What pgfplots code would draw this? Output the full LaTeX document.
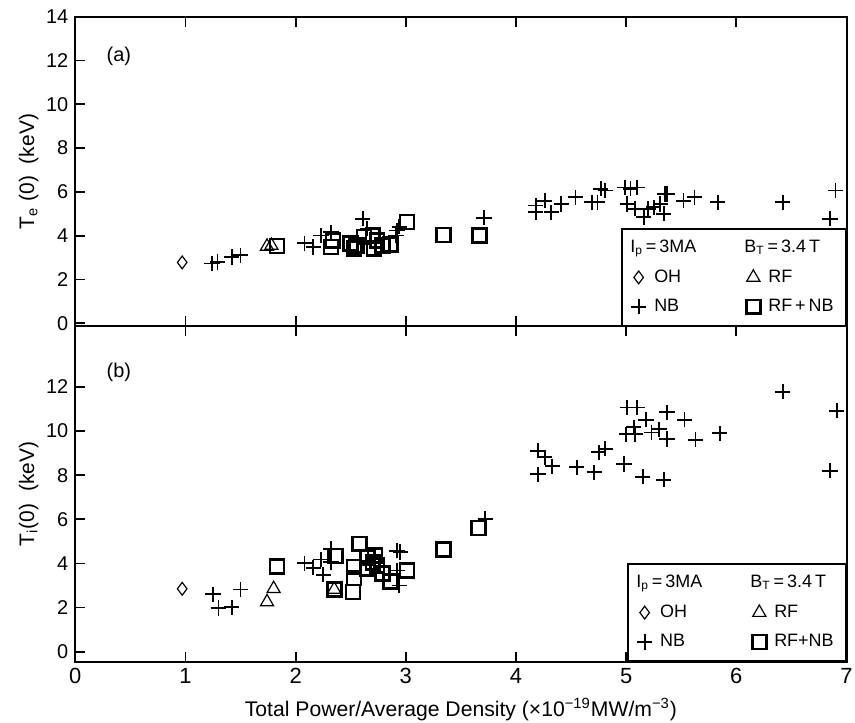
\documentclass[border=0pt]{standalone}
\usepackage{fontspec}
\setmainfont{Liberation Sans}
\usepackage{pgfplots}
\pgfplotsset{compat=1.18}

\pgfplotstableread{
x    y
0.97 2.78
}\teOH
\pgfplotstableread{
x    y
1.74 3.51
1.78 3.55
}\teRF
\pgfplotstableread{
x    y
1.24 2.73
1.29 2.80
1.42 3.03
1.50 3.10
2.08 3.66
2.16 3.48
2.23 4.01
2.32 4.16
2.61 4.77
2.65 4.32
2.91 4.01
2.92 4.24
2.94 4.40
3.71 4.82
4.18 5.07
4.18 5.38
4.26 5.60
4.32 5.07
4.41 5.45
4.54 5.75
4.69 5.53
4.74 5.53
4.77 6.14
4.81 6.06
4.99 6.20
5.04 6.14
5.10 6.20
5.01 5.45
5.08 5.23
5.16 4.85
5.20 5.23
5.25 5.30
5.31 5.45
5.35 5.90
5.37 5.90
5.34 5.00
5.52 5.60
5.62 5.75
5.83 5.53
6.42 5.53
6.90 6.06
6.85 4.77
}\teNB
\pgfplotstableread{
x    y
1.83 3.53
2.34 3.79
2.32 3.48
2.50 3.64
2.53 3.41
2.55 3.55
2.62 3.94
2.70 4.01
2.71 3.41
2.74 3.79
2.79 3.56
2.86 3.60
3.01 4.62
3.34 4.03
3.67 4.02
}\teRFNB

\pgfplotstableread{
x    y
0.97 2.85
}\tiOH
\pgfplotstableread{
x    y
1.74 2.25
1.80 2.85
2.35 2.82
}\tiRF
\pgfplotstableread{
x    y
1.25 2.60
1.30 1.98
1.42 2.02
1.50 2.82
2.08 4.01
2.16 3.81
2.23 4.18
2.25 3.48
2.32 4.66
2.32 4.06
2.92 4.58
2.95 4.52
2.94 3.00
2.92 3.68
3.72 6.02
4.20 9.11
4.26 8.81
4.33 8.40
4.20 8.05
4.55 8.36
4.71 8.13
4.75 9.04
4.81 9.20
4.98 8.51
5.01 11.07
5.10 11.07
5.00 9.86
5.07 10.17
5.08 9.86
5.15 7.93
5.18 10.52
5.23 9.94
5.30 10.09
5.37 10.85
5.37 9.64
5.34 7.80
5.53 10.52
5.63 9.61
5.85 9.91
6.42 11.78
6.91 10.92
6.85 8.20
}\tiNB
\pgfplotstableread{
x    y
1.83 3.86
2.36 4.33
2.35 2.82
2.53 3.83
2.53 3.33
2.52 2.70
2.58 4.89
2.65 4.28
2.72 4.36
2.65 3.76
2.70 4.04
2.74 3.91
2.79 3.54
2.86 3.18
3.01 3.68
3.34 4.62
3.66 5.60
}\tiRFNB

\begin{document}
\begin{tikzpicture}[font=\fontsize{10}{12}\selectfont]
\pgfplotsset{
  panel/.style={
    width=386.5pt, scale only axis,
    xmin=0, xmax=7, xtick={0,...,7},
    tick align=inside, major tick length=5pt,
    ytick pos=left,
    axis line style={line width=1pt},
    every tick/.style={black, line width=0.9pt},
    /pgf/number format/assume math mode=true,
    ylabel style={font=\fontsize{10.5}{12}\selectfont},
    ylabel shift=-3pt,
    legend style={at={(rel axis cs:1,0)}, anchor=south east,
      draw=black, line width=0.9pt, font=\fontsize{9}{10}\selectfont,
      inner xsep=4pt, inner ysep=3.5pt, row sep=3pt,
      /tikz/column 1/.style={column sep=2pt},
      /tikz/column 2/.style={column sep=22pt},
      /tikz/column 3/.style={column sep=2pt}},
    legend columns=2,
    legend cell align=left,
    legend image code/.code={\draw[mark repeat=2,mark phase=2]
      plot coordinates {(0cm,0cm) (0.16cm,0cm) (0.32cm,0cm)};},
  },
  oh/.style={only marks, mark=diamond, mark size=3.2pt, mark options={line width=0.6pt}},
  rf/.style={only marks, mark=triangle, mark size=3.8pt, mark options={line width=0.6pt}},
  nb/.style={only marks, mark=+, mark size=3.8pt, mark options={line width=0.9pt}},
  rfnb/.style={only marks, mark=square, mark size=3.5pt, mark options={line width=1.3pt}},
}

\begin{axis}[panel, name=top,
  height=155.2pt, ymin=-0.14, ymax=14, ytick={0,2,...,14},
  xticklabels=\empty,
  ylabel={T\textsubscript{e} (0)\ \ (keV)},
]
\addlegendimage{empty legend}\addlegendentry{\hspace*{-12pt}I\textsubscript{p}\,=\,3MA}
\addlegendimage{empty legend}\addlegendentry{\hspace*{-12pt}B\textsubscript{T}\,=\,3.4\,T}
\addplot[oh] table {\teOH};\addlegendentry{OH}
\addplot[rf] table {\teRF};\addlegendentry{RF}
\addplot[nb] table {\teNB};\addlegendentry{NB}
\addplot[rfnb] table {\teRFNB};\addlegendentry{RF\,+\,NB}
\node[anchor=west] at (axis cs:0.22,12.2) {(a)};
\end{axis}

\begin{axis}[panel, name=bot, at={(top.south west)}, anchor=north west,
  height=168pt, ymin=-0.45, ymax=14.75, ytick={0,2,...,12},
  ylabel={T\textsubscript{i}(0)\ \ (keV)},
  xlabel={Total Power/Average Density (×10\textsuperscript{−19}MW/m\textsuperscript{−3})},
  xlabel style={font=\fontsize{10.6}{12}\selectfont},
  xticklabel style={font=\fontsize{11}{12}\selectfont},
]
\addlegendimage{empty legend}\addlegendentry{\hspace*{-12pt}I\textsubscript{p}\,=\,3MA}
\addlegendimage{empty legend}\addlegendentry{\hspace*{-12pt}B\textsubscript{T}\,=\,3.4\,T}
\addplot[oh] table {\tiOH};\addlegendentry{OH}
\addplot[rf] table {\tiRF};\addlegendentry{RF}
\addplot[nb] table {\tiNB};\addlegendentry{NB}
\addplot[rfnb] table {\tiRFNB};\addlegendentry{RF+NB}
\node[anchor=west] at (axis cs:0.22,12.65) {(b)};
\coordinate (bl) at (rel axis cs:0,0);
\end{axis}

\pgfresetboundingbox
\path[use as bounding box] ([xshift=-37.75pt, yshift=-30.5pt]bl)
  rectangle ([xshift=4.25pt, yshift=8.35pt]top.north east);
\end{tikzpicture}
\end{document}
